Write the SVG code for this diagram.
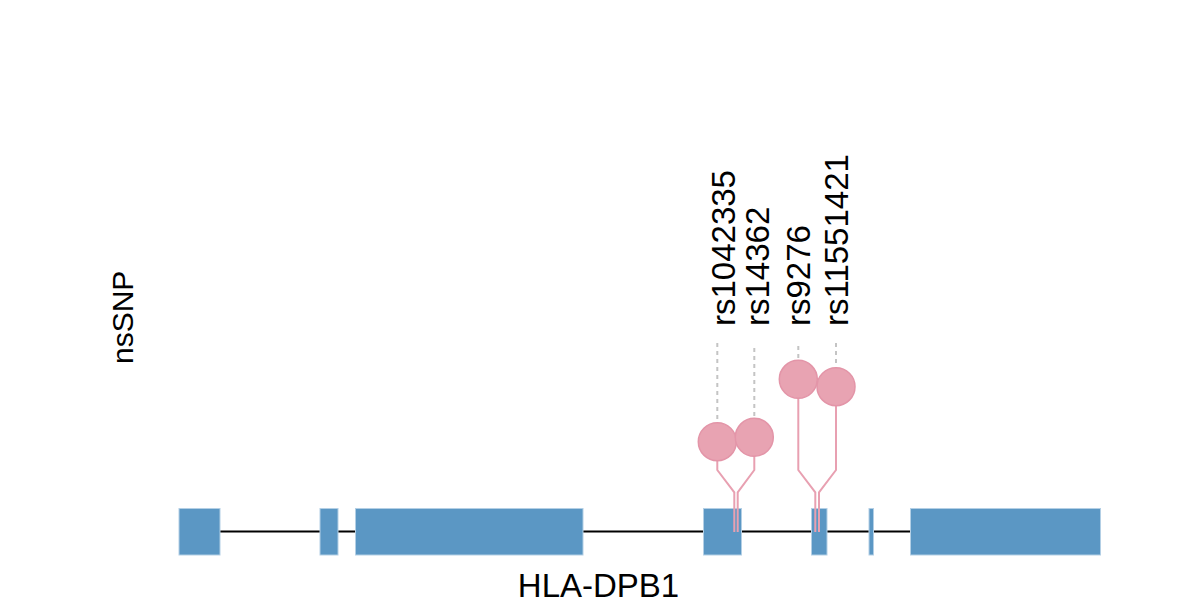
<svg xmlns="http://www.w3.org/2000/svg" width="1200" height="600" viewBox="0 0 1200 600">
<style>
.lbl{font-family:"Liberation Sans",Arial,sans-serif;font-size:33px;fill:#000}
.exon{fill:#5b97c4;stroke:#b3cfe5;stroke-width:1}
.stem{fill:none;stroke:#e8a0b1;stroke-width:2}
.head{fill:#e8a3b2;stroke:#e395a8;stroke-width:1.5}
.guide{stroke:#c4c4c4;stroke-width:2;stroke-dasharray:4,4}
</style>
<rect width="1200" height="600" fill="#fff"/>
<g id="axis-label"><text class="lbl" style="font-size:30px" transform="translate(133,364) rotate(-90)">nsSNP</text></g>
<g id="gene">
<line x1="220" y1="531.5" x2="910" y2="531.5" stroke="#000" stroke-width="2"/>
<rect class="exon" x="179" y="508.5" width="41" height="46.5"/>
<rect class="exon" x="320" y="508.5" width="18" height="46.5"/>
<rect class="exon" x="355.5" y="508.5" width="227.5" height="46.5"/>
<rect class="exon" x="703.5" y="508.5" width="38" height="46.5"/>
<rect class="exon" x="811.5" y="508.5" width="15.5" height="46.5"/>
<rect class="exon" x="869" y="508.5" width="4.5" height="46.5"/>
<rect class="exon" x="910.5" y="508.5" width="190" height="46.5"/>
<text class="lbl" x="598.5" y="596.5" text-anchor="middle">HLA-DPB1</text>
</g>
<g id="connectors">
<line class="guide" x1="717.3" y1="343" x2="717.3" y2="423"/>
<line class="guide" x1="754.3" y1="348" x2="754.3" y2="418"/>
<line class="guide" x1="798.3" y1="346" x2="798.3" y2="360"/>
<line class="guide" x1="836" y1="343" x2="836" y2="368"/>
<polyline class="stem" points="717.3,461 717.3,470 734.3,492.3 734.3,532"/>
<polyline class="stem" points="754.3,456 754.3,470 737.7,492.3 737.7,532"/>
<polyline class="stem" points="798.3,398 798.3,470 815.3,492.3 815.3,532"/>
<polyline class="stem" points="836,405 836,470 819,492.3 819,532"/>
</g>
<g id="snp-rs1042335"><circle class="head" cx="717.3" cy="441.7" r="19"/><text class="lbl" transform="translate(735,326) rotate(-90)">rs1042335</text></g>
<g id="snp-rs14362"><circle class="head" cx="754.3" cy="437.3" r="19"/><text class="lbl" transform="translate(769,326) rotate(-90)">rs14362</text></g>
<g id="snp-rs9276"><circle class="head" cx="798.3" cy="379.3" r="19"/><text class="lbl" transform="translate(810,326) rotate(-90)">rs9276</text></g>
<g id="snp-rs11551421"><circle class="head" cx="836" cy="386.7" r="19"/><text class="lbl" transform="translate(847.5,326) rotate(-90)">rs11551421</text></g>
</svg>
